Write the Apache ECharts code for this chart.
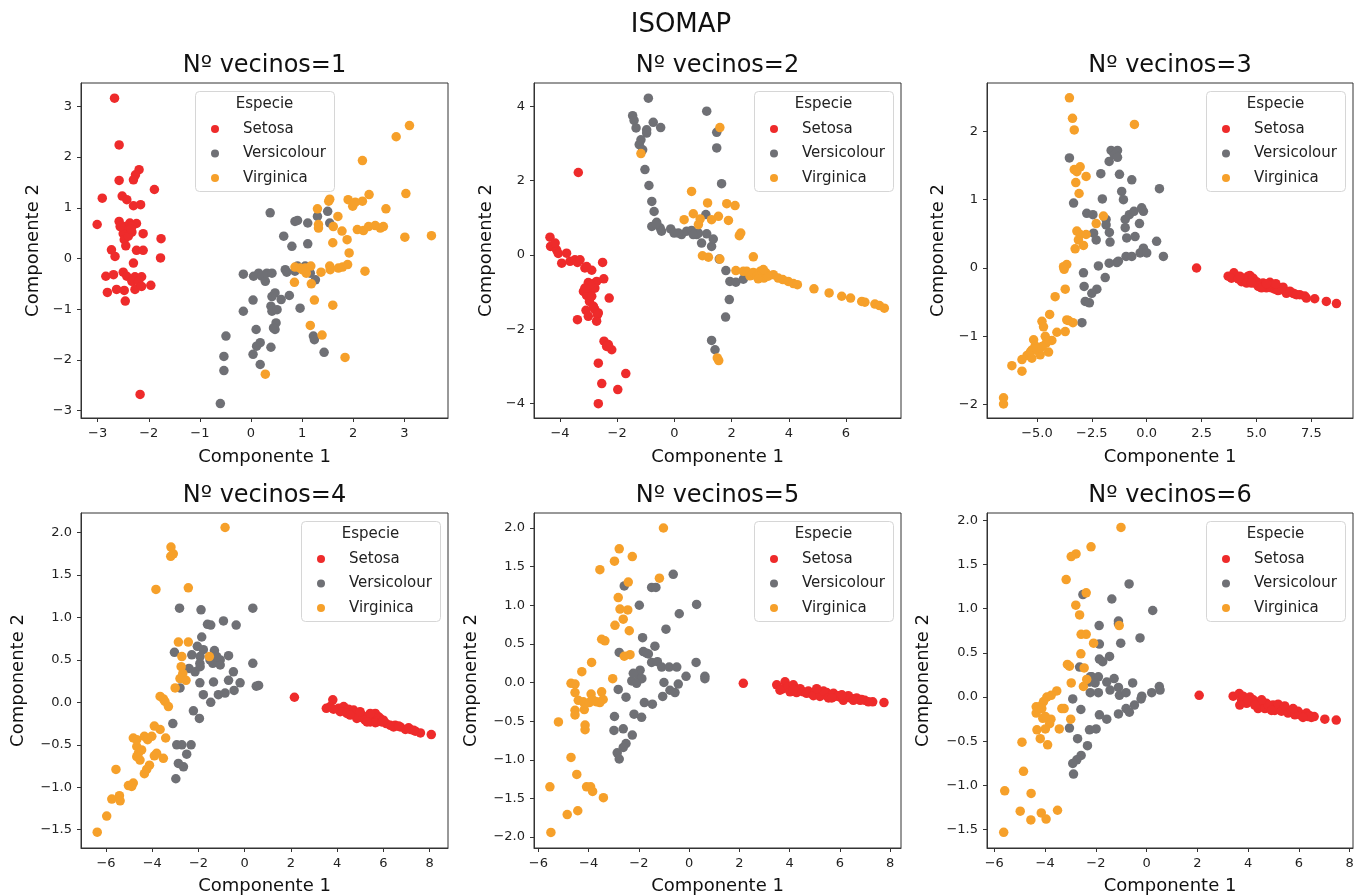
<!DOCTYPE html>
<html><head><meta charset="utf-8">
<script src="https://cdn.jsdelivr.net/npm/echarts@6/dist/echarts.min.js"></script>
<style>html,body{margin:0;padding:0;background:#fff}#c{width:1364px;height:896px}</style>
</head><body><div id="c"></div>
<script>
// ---------------- DATA ----------------
const mainTitle = 'ISOMAP';
const panelTitles = ['Nº vecinos=1','Nº vecinos=2','Nº vecinos=3','Nº vecinos=4','Nº vecinos=5','Nº vecinos=6'];
const speciesNames = ['Setosa','Versicolour','Virginica'];
const legendTitle = 'Especie';
const xName = 'Componente 1';
const yName = 'Componente 2';

const xTicks = [
  [-3,-2,-1,0,1,2,3],
  [-4,-2,0,2,4,6],
  [-5,-2.5,0,2.5,5,7.5],
  [-6,-4,-2,0,2,4,6,8],
  [-6,-4,-2,0,2,4,6,8],
  [-6,-4,-2,0,2,4,6,8]
];
const yTicks = [
  [-3,-2,-1,0,1,2,3],
  [-4,-2,0,2,4],
  [-2,-1,0,1,2],
  [-1.5,-1,-0.5,0,0.5,1,1.5,2],
  [-2,-1.5,-1,-0.5,0,0.5,1,1.5,2],
  [-1.5,-1,-0.5,0,0.5,1,1.5,2]
];
const xDecimals = [0,0,1,0,0,0];
const yDecimals = [0,0,0,1,1,1];
const xLims = [[-3.326,3.854],[-4.909,7.923],[-7.273,9.394],[-7.082,8.793],[-6.173,8.437],[-6.288,8.130]];
const yLims = [[-3.145,3.46],[-4.386,4.628],[-2.195,2.707],[-1.716,2.231],[-2.142,2.194],[-1.707,2.083]];

// Panel 1 (n_neighbors = 1)
const p1Setosa = [[-2.67,3.16],[-2.58,2.24],[-2.19,1.75],[-2.26,1.65],[-2.30,1.55],[-2.58,1.54],[-1.89,1.36],[-2.91,1.19],[-2.52,1.23],[-2.43,1.16],[-2.30,1.04],[-2.16,1.06],[-3.01,0.67],[-2.58,0.73],[-2.46,0.63],[-2.37,0.70],[-2.24,0.69],[-2.40,0.57],[-2.50,0.49],[-2.33,0.52],[-2.11,0.49],[-1.76,0.39],[-2.48,0.37],[-2.45,0.25],[-2.73,0.17],[-2.66,0.04],[-2.24,0.16],[-2.11,0.16],[-1.77,0.01],[-2.30,-0.09],[-2.84,-0.35],[-2.69,-0.32],[-2.50,-0.27],[-2.43,-0.35],[-2.27,-0.36],[-2.14,-0.36],[-2.33,-0.45],[-2.27,-0.61],[-1.96,-0.53],[-2.81,-0.67],[-2.63,-0.61],[-2.48,-0.63],[-2.46,-0.84],[-2.17,-2.68],[-2.56,0.63],[-2.33,0.63],[-2.20,-0.45],[-2.14,-0.55],[-2.40,0.44],[-2.35,0.58]];
const p1Versicolour = [[0.375,0.90],[0.86,0.73],[0.91,0.75],[1.11,0.70],[1.30,0.83],[1.50,0.93],[1.54,0.70],[0.64,0.44],[0.80,0.24],[1.11,0.29],[-0.15,-0.31],[0.05,-0.35],[0.15,-0.29],[0.21,-0.35],[0.28,-0.45],[0.31,-0.29],[0.41,-0.29],[0.67,-0.22],[0.70,-0.27],[0.86,-0.25],[0.91,-0.15],[1.06,-0.15],[1.16,-0.29],[1.26,-0.42],[0.04,-0.82],[-0.15,-1.04],[0.41,-0.75],[0.47,-0.68],[0.59,-0.81],[0.75,-0.73],[0.96,-0.98],[0.39,-0.94],[0.41,-1.04],[0.49,-1.27],[0.47,-1.40],[0.10,-1.40],[0.18,-1.66],[0.11,-1.73],[0.39,-1.75],[0.04,-1.89],[0.18,-2.09],[-0.49,-1.53],[-0.53,-1.93],[-0.53,-2.21],[-0.60,-2.86],[1.22,-1.53],[1.24,-1.60],[1.43,-1.85],[0.44,-1.37],[0.51,-1.01]];
const p1Virginica = [[3.10,2.62],[2.84,2.40],[2.18,1.93],[3.03,1.28],[2.31,1.26],[2.64,0.98],[2.18,1.13],[1.99,1.03],[1.90,1.16],[2.04,1.11],[1.30,0.98],[1.54,1.17],[1.52,1.13],[1.70,0.83],[1.32,0.67],[1.32,0.60],[2.08,0.57],[2.20,0.55],[2.30,0.63],[2.43,0.65],[2.53,0.60],[1.78,0.54],[1.88,0.37],[1.60,0.31],[1.92,0.11],[3.01,0.42],[3.53,0.45],[0.86,-0.17],[0.96,-0.19],[1.06,-0.19],[1.17,-0.15],[1.08,-0.29],[1.37,-0.27],[1.54,-0.15],[1.55,-0.22],[1.71,-0.19],[1.79,-0.17],[1.89,-0.12],[2.23,-0.25],[0.85,-0.47],[1.18,-0.50],[1.24,-0.82],[1.60,-0.92],[1.16,-1.32],[1.39,-1.51],[1.84,-1.95],[0.28,-2.28],[2.59,0.63],[1.61,0.63],[1.00,-0.22]];

// Panel 2 (n_neighbors = 2)
const p2Setosa = [[-3.36,2.22],[-4.35,0.48],[-4.33,0.23],[-4.12,0.14],[-4.06,0.04],[-3.77,0.05],[-3.94,-0.22],[-3.65,-0.17],[-3.48,-0.13],[-3.39,-0.20],[-3.13,-0.35],[-2.89,-0.41],[-2.51,-0.20],[-2.47,-0.64],[-2.28,-1.16],[-3.01,-0.74],[-2.83,-0.77],[-2.72,-0.71],[-3.18,-0.98],[-3.07,-1.09],[-2.89,-0.93],[-2.78,-0.89],[-2.97,-1.25],[-3.09,-1.49],[-3.01,-1.65],[-2.78,-1.47],[-2.69,-1.61],[-2.72,-1.78],[-2.66,-1.56],[-3.39,-1.74],[-2.46,-2.32],[-2.31,-2.41],[-2.19,-2.55],[-2.66,-2.91],[-2.54,-3.46],[-1.98,-3.62],[-1.70,-3.19],[-2.66,-4.00],[-3.30,-0.13],[-3.07,-0.31],[-2.95,-0.80],[-2.89,-1.11],[-2.83,-1.38],[-3.13,-0.89],[-2.37,-2.46],[-4.17,0.32]];
const p2Versicolour = [[-0.91,4.22],[-1.46,3.75],[-1.41,3.62],[-1.34,3.42],[-0.74,3.57],[-0.97,3.37],[-0.48,3.43],[-1.17,3.10],[-1.23,2.97],[-1.11,2.83],[-1.03,2.30],[-0.89,1.87],[-0.79,1.44],[-0.71,1.17],[-0.79,0.77],[-0.62,0.88],[-0.50,0.73],[-0.45,0.64],[-0.13,0.70],[-0.01,0.59],[0.25,0.55],[0.43,0.64],[0.60,0.66],[0.78,0.55],[0.95,0.32],[1.13,0.57],[1.30,0.23],[1.36,0.43],[1.10,1.09],[1.13,3.87],[1.48,3.30],[1.48,2.88],[1.65,1.92],[1.57,-0.11],[1.80,-0.42],[1.94,-0.71],[2.15,-0.73],[2.41,-0.65],[1.92,-1.20],[1.79,-1.67],[1.30,-2.30],[1.42,-2.55],[0.84,0.59],[0.66,0.55],[0.14,0.59],[-0.64,0.84],[-0.97,3.28]];
const p2Virginica = [[1.59,3.43],[-1.17,2.73],[0.60,1.71],[1.16,1.40],[1.83,1.38],[2.12,1.33],[0.66,1.11],[0.34,0.95],[0.90,0.97],[0.84,0.82],[1.30,0.95],[1.54,1.04],[1.89,0.93],[2.32,0.59],[2.27,0.52],[0.98,-0.02],[1.19,-0.06],[1.59,-0.11],[2.76,-0.05],[2.15,-0.42],[2.53,-0.44],[2.64,-0.56],[2.76,-0.47],[2.88,-0.57],[3.00,-0.44],[3.05,-0.53],[3.13,-0.62],[3.20,-0.48],[3.46,-0.53],[3.63,-0.62],[3.79,-0.66],[3.98,-0.71],[4.16,-0.77],[4.30,-0.80],[4.88,-0.91],[5.41,-1.02],[5.85,-1.11],[6.16,-1.16],[6.66,-1.27],[7.01,-1.32],[7.17,-1.36],[7.34,-1.43],[1.50,-2.77],[1.55,-2.84],[2.93,-0.64],[3.28,-0.57],[2.41,-0.44],[3.11,-0.39],[6.55,-1.25]];

// Panel 3 (n_neighbors = 3)
const p3Setosa = [[2.27,0.00],[3.71,-0.12],[3.97,-0.07],[3.86,-0.15],[4.17,-0.16],[4.32,-0.20],[4.47,-0.17],[4.62,-0.12],[4.70,-0.11],[4.77,-0.17],[4.85,-0.15],[4.92,-0.22],[5.00,-0.20],[5.15,-0.24],[5.30,-0.22],[5.38,-0.27],[5.53,-0.26],[5.61,-0.21],[5.68,-0.29],[5.76,-0.24],[5.83,-0.31],[5.91,-0.27],[6.06,-0.32],[6.21,-0.28],[6.36,-0.37],[6.52,-0.34],[6.74,-0.38],[6.97,-0.39],[7.20,-0.41],[7.65,-0.45],[8.18,-0.49],[8.64,-0.52],[4.39,-0.15],[4.55,-0.22],[5.08,-0.27],[5.45,-0.29],[5.98,-0.33],[6.67,-0.37],[6.82,-0.39],[7.27,-0.44],[4.77,-0.22],[5.23,-0.29],[6.14,-0.29],[4.24,-0.12],[5.45,-0.23],[5.88,-0.23]];
const p3Versicolour = [[-3.52,1.61],[-1.62,1.72],[-1.33,1.72],[-1.48,1.66],[-1.33,1.62],[-1.71,1.56],[-2.09,1.38],[-1.24,1.37],[-0.68,1.29],[0.58,1.16],[-1.14,1.12],[-2.02,1.01],[-1.06,1.00],[-3.33,0.95],[-2.73,0.80],[-2.45,0.78],[-1.85,0.71],[-0.98,0.71],[-0.79,0.78],[-0.58,0.83],[-0.23,0.88],[-0.33,0.65],[-1.85,0.63],[-0.98,0.59],[-1.70,0.52],[-1.67,0.38],[-2.42,0.51],[-2.30,0.41],[-0.91,0.44],[-0.53,0.46],[0.45,0.39],[-0.15,0.29],[-0.30,0.22],[0.00,0.22],[-0.94,0.17],[-0.68,0.17],[0.76,0.17],[-1.36,0.08],[-1.71,0.07],[-2.20,0.03],[-2.88,-0.07],[-1.89,-0.14],[-2.85,-0.27],[-2.27,-0.31],[-2.50,-0.37],[-2.80,-0.49],[-2.61,-0.51],[-2.95,-0.80],[-1.29,0.10],[-0.15,0.83]];
const p3Virginica = [[-3.52,2.49],[-3.38,2.19],[-3.30,2.02],[-0.56,2.10],[-3.30,1.44],[-3.03,1.48],[-2.76,1.34],[-3.23,1.25],[-3.08,1.09],[-1.97,0.76],[-2.30,0.65],[-3.03,0.49],[-2.76,0.49],[-3.11,0.41],[-2.88,0.33],[-3.26,0.28],[-3.64,0.05],[-3.76,-0.02],[-3.71,-0.31],[-4.17,-0.42],[-4.42,-0.68],[-4.77,-0.78],[-4.70,-0.86],[-4.09,-0.94],[-3.71,-0.93],[-3.64,-0.76],[-3.36,-0.80],[-4.32,-1.06],[-4.58,-1.10],[-5.15,-1.05],[-4.77,-1.15],[-4.92,-1.22],[-4.47,-1.23],[-5.23,-1.20],[-5.45,-1.28],[-5.68,-1.34],[-5.23,-1.32],[-6.14,-1.43],[-5.68,-1.51],[-6.52,-1.90],[-6.52,-1.99],[-5.08,-1.14],[-4.62,-1.00],[-5.30,-1.23],[-4.85,-1.27],[-3.79,0.02],[-3.18,0.54],[-3.18,1.41],[-3.56,-0.77],[-5.00,-1.18]];

// Panel 4 (n_neighbors = 4)
const p4Setosa = [[2.15,0.06],[3.81,0.03],[3.53,-0.07],[3.70,-0.05],[4.06,-0.07],[4.28,-0.05],[4.35,-0.11],[4.49,-0.08],[4.64,-0.13],[4.78,-0.15],[4.93,-0.17],[5.07,-0.15],[5.14,-0.19],[5.29,-0.17],[5.36,-0.21],[5.50,-0.16],[5.57,-0.21],[5.65,-0.13],[5.72,-0.23],[5.79,-0.17],[5.86,-0.19],[6.12,-0.25],[6.30,-0.27],[6.51,-0.27],[6.73,-0.29],[6.95,-0.32],[7.16,-0.32],[7.38,-0.34],[7.60,-0.36],[8.07,-0.38],[4.13,-0.11],[4.42,-0.13],[4.71,-0.09],[4.85,-0.19],[5.21,-0.21],[5.43,-0.23],[5.65,-0.24],[5.93,-0.23],[6.44,-0.29],[7.09,-0.30],[3.84,-0.08],[4.56,-0.15],[4.99,-0.11],[5.43,-0.13],[6.00,-0.21],[6.66,-0.28],[7.31,-0.33],[5.29,-0.23]];
const p4Versicolour = [[-2.82,1.11],[-1.89,1.09],[0.35,1.11],[-1.61,0.92],[-1.47,0.91],[-0.92,0.96],[-0.37,0.91],[-1.86,0.77],[-2.05,0.66],[-1.79,0.62],[-1.31,0.61],[-3.04,0.59],[-2.29,0.56],[-1.93,0.54],[-0.70,0.55],[-1.06,0.50],[-1.38,0.46],[-1.50,0.50],[-1.94,0.46],[-2.41,0.40],[-2.15,0.36],[-1.06,0.44],[0.35,0.46],[-0.49,0.36],[-0.70,0.26],[-0.20,0.23],[-1.94,0.23],[-1.35,0.24],[-2.80,0.17],[0.60,0.20],[0.50,0.19],[-1.79,0.09],[-1.14,0.09],[-0.85,0.11],[-0.46,0.14],[-1.47,0.00],[-2.22,-0.10],[-1.96,-0.19],[-3.11,-0.25],[-2.94,-0.50],[-2.72,-0.50],[-2.32,-0.50],[-2.51,-0.61],[-2.87,-0.72],[-2.65,-0.76],[-2.98,-0.90],[-1.93,0.42],[-1.21,0.54]];
const p4Virginica = [[-0.85,2.06],[-3.19,1.83],[-3.09,1.75],[-3.20,1.72],[-3.84,1.33],[-2.44,1.35],[-2.87,0.71],[-2.44,0.71],[-2.72,0.54],[-1.53,0.54],[-2.75,0.42],[-2.68,0.34],[-2.80,0.28],[-2.54,0.26],[-3.01,0.17],[-3.52,0.04],[-3.45,0.01],[-3.30,-0.05],[-3.91,-0.28],[-3.66,-0.32],[-3.42,-0.42],[-4.82,-0.42],[-4.34,-0.40],[-4.20,-0.44],[-4.67,-0.52],[-4.60,-0.60],[-4.67,-0.64],[-4.53,-0.68],[-3.91,-0.63],[-3.81,-0.60],[-3.52,-0.66],[-4.12,-0.74],[-4.24,-0.79],[-4.34,-0.84],[-5.57,-0.79],[-5.03,-0.98],[-4.82,-0.95],[-4.89,-0.99],[-5.42,-1.10],[-5.75,-1.14],[-5.39,-1.16],[-5.97,-1.34],[-6.38,-1.53],[-4.67,-0.44],[-4.46,-0.56],[-4.02,-0.40],[-3.66,0.07]];

// Panel 5 (n_neighbors = 5)
const p5Setosa = [[2.16,-0.01],[3.49,-0.03],[3.82,0.01],[3.75,-0.08],[3.95,-0.05],[4.15,-0.03],[4.22,-0.10],[4.42,-0.08],[4.55,-0.12],[4.75,-0.11],[4.88,-0.14],[5.01,-0.12],[5.15,-0.15],[5.28,-0.13],[5.41,-0.16],[5.48,-0.13],[5.61,-0.17],[5.81,-0.18],[6.01,-0.19],[6.21,-0.20],[6.41,-0.20],[6.61,-0.21],[6.81,-0.23],[7.00,-0.23],[7.31,-0.25],[7.76,-0.26],[3.62,-0.10],[4.02,-0.12],[4.28,-0.13],[4.68,-0.14],[4.95,-0.17],[5.21,-0.18],[5.35,-0.11],[5.55,-0.20],[5.75,-0.14],[5.94,-0.17],[6.14,-0.23],[6.34,-0.17],[6.67,-0.20],[7.14,-0.25],[4.15,-0.09],[5.08,-0.08],[5.68,-0.20],[6.08,-0.16],[6.54,-0.23],[6.87,-0.22]];
const p5Versicolour = [[-0.63,1.40],[-2.58,1.25],[-1.49,1.23],[-1.32,1.23],[0.30,1.01],[-1.98,1.00],[-0.39,0.89],[-0.92,0.69],[-1.85,0.58],[-1.36,0.47],[-2.78,0.39],[-1.82,0.40],[-1.62,0.37],[-1.49,0.26],[-1.26,0.27],[-1.09,0.20],[-0.79,0.20],[-0.49,0.20],[0.28,0.26],[-1.95,0.16],[-2.02,0.10],[-1.88,0.05],[-2.28,0.02],[-2.09,-0.01],[-0.12,0.08],[0.63,0.08],[0.63,0.05],[-1.00,0.00],[-0.43,-0.02],[-2.82,-0.09],[-0.76,-0.10],[-0.56,-0.13],[-2.51,-0.19],[-1.05,-0.18],[-1.78,-0.26],[-1.46,-0.28],[-2.97,-0.44],[-2.19,-0.41],[-1.89,-0.45],[-2.99,-0.62],[-2.62,-0.60],[-2.26,-0.68],[-2.51,-0.79],[-2.62,-0.84],[-2.86,-0.91],[-2.78,-0.99],[-1.69,0.38],[-2.22,0.12]];
const p5Virginica = [[-1.02,2.00],[-2.78,1.73],[-2.26,1.63],[-2.97,1.57],[-3.55,1.46],[-1.18,1.35],[-2.42,1.30],[-2.82,1.10],[-2.75,0.95],[-2.44,0.94],[-2.62,0.82],[-2.95,0.74],[-2.38,0.67],[-3.48,0.56],[-3.35,0.54],[-2.58,0.34],[-2.35,0.36],[-3.88,0.26],[-4.27,0.14],[-3.04,0.05],[-4.70,-0.01],[-4.54,-0.02],[-4.54,-0.13],[-3.90,-0.15],[-3.48,-0.12],[-4.21,-0.25],[-3.97,-0.26],[-3.68,-0.25],[-3.42,-0.22],[-3.55,-0.26],[-4.54,-0.36],[-4.17,-0.35],[-4.54,-0.42],[-5.20,-0.51],[-4.14,-0.55],[-4.14,-0.61],[-4.70,-0.97],[-4.47,-1.19],[-4.08,-1.35],[-3.92,-1.35],[-3.84,-1.41],[-3.41,-1.49],[-5.54,-1.35],[-4.85,-1.71],[-4.43,-1.66],[-5.50,-1.94],[-3.81,-0.23],[-4.41,-0.23]];

// Panel 6 (n_neighbors = 6)
const p6Setosa = [[2.07,0.02],[3.41,0.01],[3.65,0.04],[3.74,-0.03],[3.80,0.01],[4.07,0.00],[4.13,-0.05],[4.33,-0.08],[4.46,-0.05],[4.59,-0.10],[4.72,-0.07],[4.85,-0.11],[4.98,-0.09],[5.12,-0.13],[5.25,-0.11],[5.38,-0.15],[5.51,-0.14],[5.64,-0.16],[5.77,-0.18],[5.90,-0.18],[6.03,-0.19],[6.23,-0.20],[6.43,-0.21],[6.60,-0.22],[7.02,-0.25],[7.47,-0.26],[3.94,-0.07],[4.20,-0.03],[4.39,-0.13],[4.66,-0.13],[4.79,-0.09],[5.05,-0.15],[5.18,-0.08],[5.31,-0.16],[5.44,-0.10],[5.57,-0.18],[5.71,-0.15],[5.97,-0.16],[6.10,-0.21],[6.30,-0.18],[6.49,-0.23],[3.67,-0.09],[4.53,-0.03],[4.92,-0.15],[5.84,-0.20],[6.36,-0.22],[4.00,-0.03],[4.26,-0.09],[5.77,-0.13],[6.16,-0.23]];
const p6Versicolour = [[-0.69,1.28],[-2.51,1.16],[-1.37,1.11],[0.24,0.98],[-1.11,0.86],[-1.87,0.81],[-0.26,0.67],[-1.86,0.60],[-1.02,0.61],[-1.46,0.46],[-1.86,0.43],[-1.73,0.40],[-2.64,0.34],[-2.16,0.23],[-1.90,0.23],[-1.28,0.21],[-2.25,0.17],[-2.03,0.16],[-1.57,0.17],[-1.11,0.11],[-0.55,0.16],[0.50,0.12],[0.53,0.08],[-2.22,0.05],[-1.90,0.05],[-1.44,0.08],[-1.07,0.02],[-0.81,0.05],[0.20,0.05],[-0.19,0.01],[-0.22,-0.02],[-2.91,-0.02],[-0.48,-0.09],[-2.59,-0.14],[-0.81,-0.13],[-0.68,-0.17],[-1.11,-0.19],[-1.86,-0.20],[-1.57,-0.25],[-3.04,-0.35],[-2.25,-0.37],[-1.99,-0.36],[-2.72,-0.47],[-2.33,-0.55],[-2.58,-0.66],[-2.75,-0.71],[-2.91,-0.75],[-2.88,-0.87],[-1.11,0.83],[-2.22,0.23]];
const p6Virginica = [[-1.01,1.92],[-2.19,1.70],[-2.78,1.62],[-2.97,1.59],[-3.17,1.33],[-2.38,1.18],[-2.79,1.04],[-2.64,0.93],[-2.58,0.71],[-2.38,0.71],[-2.09,0.61],[-1.08,0.81],[-2.59,0.49],[-3.12,0.37],[-3.04,0.35],[-2.46,0.33],[-2.36,0.20],[-2.97,0.16],[-2.49,0.12],[-3.54,0.07],[-3.76,0.02],[-3.93,0.00],[-4.06,-0.05],[-4.16,-0.10],[-4.35,-0.11],[-3.34,-0.13],[-3.25,-0.13],[-4.35,-0.18],[-4.09,-0.24],[-3.77,-0.25],[-2.99,-0.25],[-3.82,-0.30],[-4.32,-0.37],[-3.99,-0.36],[-3.44,-0.36],[-4.19,-0.47],[-3.90,-0.54],[-4.91,-0.51],[-4.85,-0.84],[-5.59,-1.06],[-4.55,-1.09],[-4.98,-1.29],[-4.56,-1.39],[-4.15,-1.31],[-3.96,-1.38],[-3.51,-1.28],[-5.63,-1.53],[-3.99,-0.22],[-4.13,-0.13]];

const panelData = [
  [p1Setosa, p1Versicolour, p1Virginica],
  [p2Setosa, p2Versicolour, p2Virginica],
  [p3Setosa, p3Versicolour, p3Virginica],
  [p4Setosa, p4Versicolour, p4Virginica],
  [p5Setosa, p5Versicolour, p5Virginica],
  [p6Setosa, p6Versicolour, p6Virginica]
];

// ---------------- STYLE / LAYOUT ----------------
const FONT = 'DejaVu Sans';
const colors = ['#ee2b2b', '#6f7075', '#f6a02a'];
const grids = [
  {left: 81, top: 83, width: 367, height: 335},
  {left: 534, top: 83, width: 367, height: 335},
  {left: 987, top: 83, width: 366, height: 335},
  {left: 81, top: 513, width: 367, height: 335},
  {left: 534, top: 513, width: 367, height: 335},
  {left: 987, top: 513, width: 366, height: 335}
];
const yNameGaps = [39, 39, 40, 54, 54, 55];
const legendCentered = [true, false, false, false, false, false];
const frameW = 139, frameH = 100;

function fmt(d) {
  return function (v) {
    const s = Math.abs(v).toFixed(d);
    return (v < -1e-9 ? '\u2212' : '') + s;
  };
}

const option = {
  backgroundColor: '#ffffff',
  animation: false,
  textStyle: {fontFamily: FONT},
  title: [],
  grid: [], xAxis: [], yAxis: [], series: [], legend: [],
  graphic: {elements: []}
};

option.title.push({
  text: mainTitle, left: 681, top: 25, textAlign: 'center', textVerticalAlign: 'middle', padding: 0,
  textStyle: {fontFamily: FONT, fontSize: 26, fontWeight: 'normal', color: '#111'}
});

grids.forEach(function (g, i) {
  option.grid.push({left: g.left, top: g.top, width: g.width, height: g.height, show: true,
    borderColor: '#333', borderWidth: 1, backgroundColor: 'transparent', containLabel: false});
  option.title.push({
    text: panelTitles[i], left: g.left + g.width / 2, top: g.top - 17.5,
    textAlign: 'center', textVerticalAlign: 'middle', padding: 0,
    textStyle: {fontFamily: FONT, fontSize: 24, fontWeight: 'normal', color: '#111'}
  });
  option.xAxis.push({
    type: 'value', gridIndex: i, min: xLims[i][0], max: xLims[i][1],
    name: xName, nameLocation: 'middle', nameGap: i < 3 ? 30 : 29,
    nameTextStyle: {fontFamily: FONT, fontSize: 18, color: '#111'},
    axisLine: {show: true, onZero: false, lineStyle: {color: '#333', width: 1}},
    axisTick: {show: true, length: 4, lineStyle: {color: '#333'}, customValues: xTicks[i]},
    axisLabel: {show: true, margin: 9, fontFamily: FONT, fontSize: 13, color: '#222',
      customValues: xTicks[i], formatter: fmt(xDecimals[i]), showMinLabel: true, showMaxLabel: true},
    splitLine: {show: false}
  });
  option.yAxis.push({
    type: 'value', gridIndex: i, min: yLims[i][0], max: yLims[i][1],
    name: yName, nameLocation: 'middle', nameGap: yNameGaps[i],
    nameTextStyle: {fontFamily: FONT, fontSize: 18, color: '#111'},
    axisLine: {show: true, onZero: false, lineStyle: {color: '#333', width: 1}},
    axisTick: {show: true, length: 4, lineStyle: {color: '#333'}, customValues: yTicks[i]},
    axisLabel: {show: true, margin: 9, fontFamily: FONT, fontSize: 13, color: '#222',
      customValues: yTicks[i], formatter: fmt(yDecimals[i])},
    splitLine: {show: false}
  });
  panelData[i].forEach(function (arr, s) {
    option.series.push({
      type: 'scatter', name: speciesNames[s], xAxisIndex: i, yAxisIndex: i,
      data: arr, symbol: 'circle', symbolSize: 9.5, z: 2 + s * 0.01,
      itemStyle: {color: colors[s], opacity: 1}
    });
  });
  // legend frame
  const fx = legendCentered[i] ? Math.round(g.left + g.width / 2 - frameW / 2) : g.left + g.width - 8 - frameW;
  const fy = g.top + 8;
  option.graphic.elements.push({
    type: 'rect', z: 10, silent: true,
    shape: {x: fx + 0.5, y: fy + 0.5, width: frameW, height: frameH, r: 4},
    style: {fill: 'rgba(255,255,255,0.85)', stroke: '#d6d6d6', lineWidth: 1}
  });
  option.graphic.elements.push({
    type: 'text', z: 11, silent: true,
    x: fx + frameW / 2, y: fy + 13,
    style: {text: legendTitle, fontFamily: FONT, fontSize: 15, fill: '#222', align: 'center', verticalAlign: 'middle'}
  });
  option.legend.push({
    data: speciesNames, orient: 'vertical', left: fx + 16, top: fy + 26, padding: 0,
    icon: 'circle', itemWidth: 8, itemHeight: 8, itemGap: 0.5, z: 20,
    selectedMode: false,
    formatter: function (name) { return '{t|' + name + '}'; },
    textStyle: {fontFamily: FONT, fontSize: 15, color: '#222', lineHeight: 24,
      rich: {t: {fontFamily: FONT, fontSize: 15, color: '#222', lineHeight: 24, padding: [0, 0, 0, 19]}}}
  });
});

const chart = echarts.init(document.getElementById('c'), null, {renderer: 'canvas'});
chart.setOption(option);
</script>
</body></html>
